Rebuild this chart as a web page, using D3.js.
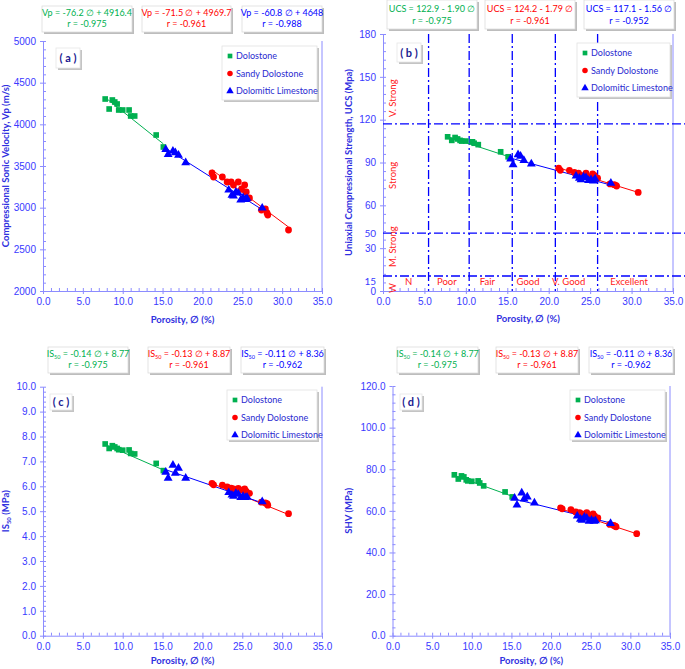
<!DOCTYPE html>
<html>
<head>
<meta charset="utf-8">
<script src="https://cdn.jsdelivr.net/npm/d3@7"></script>
<style>
body { margin: 0; background: #fff; }
svg { font-family: Lato, "Open Sans", sans-serif; }
</style>
</head>
<body>
<svg id="chart" width="685" height="669"></svg>
<script>
// ---- data ----
const lith = ["Dolostone", "Sandy Dolostone", "Dolomitic Limestone"];
const colors = ["#00b050", "#ff0000", "#0000ff"];

const dolPor = [7.8, 8.3, 8.7, 9.0, 9.3, 9.5, 10.0, 10.8, 11.0, 11.5, 14.2, 15.1];
const sanPor = [21.2, 21.4, 22.5, 23.1, 23.6, 23.9, 24.5, 24.9, 25.3, 25.5, 25.9, 27.4, 27.9, 28.1, 28.2, 30.8];
const limPor = [15.4, 15.7, 16.3, 16.6, 17.0, 17.9, 23.3, 23.7, 23.9, 24.2, 24.5, 24.8, 25.1, 25.4, 25.6, 27.5];

const dolVp = [4304, 4184, 4292, 4268, 4244, 4172, 4172, 4172, 4100, 4100, 3872, 3728];
const sanVp = [3416, 3368, 3368, 3308, 3308, 3272, 3308, 3224, 3272, 3188, 3116, 2972, 2984, 2936, 2912, 2732];
const limVp = [3700, 3640, 3680, 3660, 3630, 3540, 3212, 3150, 3140, 3188, 3176, 3092, 3120, 3100, 3110, 2996];

const dolUcs = [108, 105.5, 107.5, 106.5, 105.5, 105, 105, 104.5, 103.5, 102.5, 97.5, 94];
const sanUcs = [86, 84.5, 84.5, 83, 82.5, 81, 82.5, 80, 82, 81, 79, 75, 74.5, 74, 73.5, 69];
const limUcs = [92.5, 88.5, 95.5, 94.5, 91.5, 89, 80.5, 79, 78, 80, 79.5, 77.5, 78, 77, 78.5, 75.5];

const dolIs = [7.70, 7.52, 7.63, 7.58, 7.52, 7.47, 7.45, 7.46, 7.32, 7.30, 6.92, 6.63];
const sanIs = [6.12, 6.06, 6.05, 5.98, 5.93, 5.90, 5.92, 5.85, 5.90, 5.80, 5.72, 5.36, 5.33, 5.30, 5.24, 4.90];
const limIs = [6.57, 6.33, 6.85, 6.53, 6.73, 6.33, 5.75, 5.65, 5.60, 5.72, 5.68, 5.55, 5.60, 5.55, 5.57, 5.38];

const dolShv = [77.3, 75.3, 76.8, 76.3, 74.9, 74.4, 74.2, 74.4, 73.4, 72.0, 69.1, 66.7];
const sanShv = [61.4, 61, 60.6, 59.5, 59.2, 58.5, 59.2, 58, 58.5, 57.5, 56.6, 53.5, 53, 52.6, 52.3, 49];
const limShv = [66.1, 62.8, 68.6, 65.7, 66.7, 63.8, 57.5, 56, 55.5, 57, 56.5, 55, 55.5, 55, 55.3, 54];

// fit lines [intercept, slope] per lithology
const fitVp = [[4916.4, -76.2], [4969.7, -71.5], [4648, -60.8]];
const fitUcs = [[122.9, -1.90], [124.2, -1.79], [117.1, -1.56]];
const fitIs = [[8.77, -0.14], [8.87, -0.13], [8.36, -0.11]];
const fitShv = [[87.7, -1.37], [87.5, -1.25], [80.3, -0.95]];

const eqVp = ["Vp = -76.2 \u2205 + 4916.4", "Vp = -71.5 \u2205 + 4969.7", "Vp = -60.8 \u2205 + 4648"];
const rVp = ["r = -0.975", "r = -0.961", "r = -0.988"];
const eqUcs = ["UCS = 122.9 - 1.90 \u2205", "UCS = 124.2 - 1.79 \u2205", "UCS = 117.1 - 1.56 \u2205"];
const rUcs = ["r = -0.975", "r = -0.961", "r = -0.952"];
const eqIs = [" = -0.14 \u2205 + 8.77", " = -0.13 \u2205 + 8.87", " = -0.11 \u2205 + 8.36"];
const rIs = ["r = -0.975", "r = -0.961", "r = -0.962"];

const xTicks = [0, 5, 10, 15, 20, 25, 30, 35];

// UCS classification (panel b)
const porClass = [5.5, 10.4, 15.6, 20.8, 25.9];
const ucsClass = [117, 40.6, 10.5];
const porNames = ["N", "Poor", "Fair", "Good", "V. Good", "Excellent"];
const porNameX = [3.1, 7.7, 12.6, 17.5, 22.4, 29.7];
const ucsNames = ["V. Strong", "Strong", "M. Strong", "W"];
const ucsNameY = [135, 81, 31, 2];

const svg = d3.select("#chart");
const axisCol = "#8c8cff", tickTxt = "#3a3aff", titleCol = "#3030e0";

function panel(o) {
  const x = d3.scaleLinear().domain([0, 35]).range([o.x0, o.x1]);
  const y = d3.scaleLinear().domain(o.yDom).range([o.y1, o.y0]);
  const g = svg.append("g");

  // equation boxes
  o.boxes.forEach((b, i) => {
    g.append("rect").attr("x", b[0] + 2).attr("y", o.by0 + 2).attr("width", b[1] - b[0]).attr("height", o.bh)
      .attr("fill", "#bdbdbd");
    g.append("rect").attr("x", b[0]).attr("y", o.by0).attr("width", b[1] - b[0]).attr("height", o.bh)
      .attr("fill", "#fff").attr("stroke", "#dcdcdc").attr("stroke-width", 0.8);
    const cx = (b[0] + b[1]) / 2;
    const t = g.append("text").attr("x", cx).attr("y", o.by0 + o.bh * 0.4).attr("text-anchor", "middle")
      .attr("font-size", 9).attr("fill", colors[i]);
    if (o.boxSub) {
      t.append("tspan").text("IS");
      t.append("tspan").text("50").attr("font-size", 5.5).attr("dy", 2);
      t.append("tspan").text(o.eq[i]).attr("dy", -2);
    } else t.text(o.eq[i]);
    g.append("text").attr("x", cx).attr("y", o.by0 + o.bh * 0.82).attr("text-anchor", "middle")
      .attr("font-size", 9).attr("fill", colors[i]).text(o.r[i]);
  });

  // right border
  g.append("line").attr("x1", o.x1).attr("x2", o.x1).attr("y1", o.y0).attr("y2", o.y1)
    .attr("stroke", axisCol).attr("stroke-width", 1);

  // axes
  const xMinor = d3.range(0, 35.01, 1);
  const gx = g.append("g").attr("transform", `translate(0,${o.y1})`);
  gx.call(d3.axisBottom(x).tickValues(xMinor).tickSizeInner(-3).tickSizeOuter(0).tickFormat(""));
  const gx2 = g.append("g").attr("transform", `translate(0,${o.y1})`);
  gx2.call(d3.axisBottom(x).tickValues(xTicks).tickSize(3).tickPadding(4).tickFormat(d3.format(".1f")));
  gx2.select(".domain").remove();

  const gy = g.append("g").attr("transform", `translate(${o.x0},0)`);
  gy.call(d3.axisLeft(y).tickValues(o.yMinor).tickSizeInner(-3).tickSizeOuter(0).tickFormat(""));
  const gy2 = g.append("g").attr("transform", `translate(${o.x0},0)`);
  gy2.call(d3.axisLeft(y).tickValues(o.yTicks).tickSize(3).tickPadding(4).tickFormat(o.fmt));
  gy2.select(".domain").remove();

  [gx, gx2, gy, gy2].forEach(a => {
    a.selectAll("path,line").attr("stroke", axisCol);
    a.selectAll("text").attr("fill", tickTxt).attr("font-size", 10);
  });

  if (o.extra) o.extra(g, x, y);

  // axis titles
  g.append("text").attr("x", (o.x0 + o.x1) / 2).attr("y", o.y1 + o.xtOff).attr("text-anchor", "middle")
    .attr("font-size", 9.5).attr("font-weight", "bold").attr("fill", titleCol).text("Porosity, \u2205 (%)");
  const yt = g.append("text").attr("transform", `translate(${o.ytx},${(o.y0 + o.y1) / 2}) rotate(-90)`)
    .attr("text-anchor", "middle").attr("font-size", 9.5).attr("font-weight", "bold").attr("fill", titleCol);
  if (o.titleSub) {
    yt.append("tspan").text("IS");
    yt.append("tspan").text("50").attr("font-size", 6).attr("dy", 2);
    yt.append("tspan").text(" (MPa)").attr("dy", -2);
  } else yt.text(o.ytitle);

  // trend lines
  const pors = [dolPor, sanPor, limPor];
  pors.forEach((p, i) => {
    const ext = d3.extent(p);
    g.append("line")
      .attr("x1", x(ext[0])).attr("y1", y(o.fit[i][0] + o.fit[i][1] * ext[0]))
      .attr("x2", x(ext[1])).attr("y2", y(o.fit[i][0] + o.fit[i][1] * ext[1]))
      .attr("stroke", colors[i]).attr("stroke-width", 1);
  });

  // points
  const sq = d3.symbol().type(d3.symbolSquare).size(32);
  const ci = d3.symbol().type(d3.symbolCircle).size(36);
  const tr = d3.symbol().type(d3.symbolTriangle).size(34);
  g.selectAll(".dol").data(dolPor).join("path").attr("d", sq)
    .attr("transform", (d, i) => `translate(${x(d)},${y(o.vals[0][i])})`).attr("fill", colors[0]);
  g.selectAll(".san").data(sanPor).join("path").attr("class", "san").attr("d", ci)
    .attr("transform", (d, i) => `translate(${x(d)},${y(o.vals[1][i])})`).attr("fill", colors[1]);
  g.selectAll(".lim").data(limPor).join("path").attr("class", "lim").attr("d", tr)
    .attr("transform", (d, i) => `translate(${x(d)},${y(o.vals[2][i])})`).attr("fill", colors[2]);

  // legend
  const L = o.leg;
  g.append("rect").attr("x", L[0] + 2).attr("y", L[1] + 2).attr("width", L[2]).attr("height", L[3]).attr("fill", "#c4c4c4");
  g.append("rect").attr("x", L[0]).attr("y", L[1]).attr("width", L[2]).attr("height", L[3])
    .attr("fill", "#fff").attr("stroke", "#e2e2e2").attr("stroke-width", 0.8);
  const syms = [d3.symbol().type(d3.symbolSquare).size(22), d3.symbol().type(d3.symbolCircle).size(24), d3.symbol().type(d3.symbolTriangle).size(24)];
  lith.forEach((n, i) => {
    const ly = L[1] + 10 + i * 17.5;
    g.append("path").attr("d", syms[i]).attr("transform", `translate(${L[0] + 8},${ly})`).attr("fill", colors[i]);
    g.append("text").attr("x", L[0] + 14).attr("y", ly + 3.3).attr("font-size", 9).attr("fill", "#2a2ad0").text(n);
  });

  // panel label
  const P = o.lab;
  g.append("rect").attr("x", P[0] + 2).attr("y", P[1] + 2).attr("width", P[2]).attr("height", P[3]).attr("fill", "#c4c4c4");
  g.append("rect").attr("x", P[0]).attr("y", P[1]).attr("width", P[2]).attr("height", P[3])
    .attr("fill", "#fff").attr("stroke", "#e6e6e6").attr("stroke-width", 0.8);
  g.append("text").attr("x", P[0] + P[2] / 2).attr("y", P[1] + P[3] / 2 + 4).attr("text-anchor", "middle")
    .attr("font-size", 11).attr("font-weight", "bold").attr("fill", "#1a1a90").text(o.label);
}

// (a)
panel({
  x0: 43, x1: 322, y0: 41, y1: 291, yDom: [2000, 5000],
  yTicks: d3.range(2000, 5001, 500), yMinor: d3.range(2000, 5001, 100), fmt: d3.format("d"),
  ytx: 9, ytitle: "Compressional Sonic Velocity, Vp (m/s)", xtOff: 32,
  boxes: [[42, 132], [142, 231], [242, 322]], by0: 6, bh: 26, eq: eqVp, r: rVp,
  fit: fitVp, vals: [dolVp, sanVp, limVp],
  leg: [222, 46, 95, 54], lab: [56, 48, 24, 20], label: "( a )"
});

// (b)
panel({
  x0: 383, x1: 673, y0: 34, y1: 291, yDom: [0, 180],
  yTicks: d3.range(0, 181, 30), yMinor: d3.range(0, 181, 6), fmt: d3.format("d"),
  ytx: 352, ytitle: "Uniaxial Compressional Strength, UCS (Mpa)", xtOff: 31,
  boxes: [[387, 477], [485, 575], [584, 674]], by0: 0, bh: 29, eq: eqUcs, r: rUcs,
  fit: fitUcs, vals: [dolUcs, sanUcs, limUcs],
  leg: [577, 43, 93, 54], lab: [397, 43, 24, 19], label: "( b )",
  extra: (g, x, y) => {
    const dash = "9,3,2,3";
    porClass.forEach(v => g.append("line").attr("x1", x(v)).attr("x2", x(v)).attr("y1", y(180)).attr("y2", y(0))
      .attr("stroke", "#0000ff").attr("stroke-width", 1.3).attr("stroke-dasharray", dash));
    ucsClass.forEach(v => g.append("line").attr("x1", x(0)).attr("x2", 685).attr("y1", y(v)).attr("y2", y(v))
      .attr("stroke", "#0000ff").attr("stroke-width", 1.3).attr("stroke-dasharray", dash));
    [["50", 40.6], ["15", 7]].forEach(t => {
      g.append("text").attr("x", x(0) - 7).attr("y", y(t[1]) + 3.5).attr("text-anchor", "end")
        .attr("font-size", 10).attr("fill", tickTxt).text(t[0]);
    });
    porNames.forEach((n, i) => g.append("text").attr("x", x(porNameX[i])).attr("y", y(7) + 3.5)
      .attr("text-anchor", "middle").attr("font-size", 9.5).attr("fill", "#ff2020").text(n));
    ucsNames.forEach((n, i) => g.append("text")
      .attr("transform", `translate(${x(1.2) + 3},${y(ucsNameY[i])}) rotate(-90)`)
      .attr("text-anchor", "middle").attr("font-size", 9.5).attr("fill", "#ff2020").text(n));
  }
});

// (c)
panel({
  x0: 43, x1: 322, y0: 386.7, y1: 635.7, yDom: [0, 10],
  yTicks: d3.range(0, 10.01, 1), yMinor: d3.range(0, 10.01, 0.2), fmt: d3.format(".1f"),
  ytx: 9, titleSub: true, boxSub: true, xtOff: 28,
  boxes: [[48, 128], [148, 230], [241, 324]], by0: 347, bh: 26, eq: eqIs, r: rIs,
  fit: fitIs, vals: [dolIs, sanIs, limIs],
  leg: [227, 390, 90, 50], lab: [50, 394, 22, 16], label: "( c )"
});

// (d)
panel({
  x0: 392.5, x1: 670, y0: 386, y1: 635.7, yDom: [0, 120],
  yTicks: d3.range(0, 121, 20), yMinor: d3.range(0, 121, 4), fmt: d3.format(".1f"),
  ytx: 352, ytitle: "SHV (MPa)", boxSub: true, xtOff: 28,
  boxes: [[397, 478], [496, 578], [589, 673]], by0: 347, bh: 26, eq: eqIs, r: rIs,
  fit: fitShv, vals: [dolShv, sanShv, limShv],
  leg: [570, 390, 95, 50], lab: [400, 394, 22, 16], label: "( d )"
});
</script>
</body>
</html>
